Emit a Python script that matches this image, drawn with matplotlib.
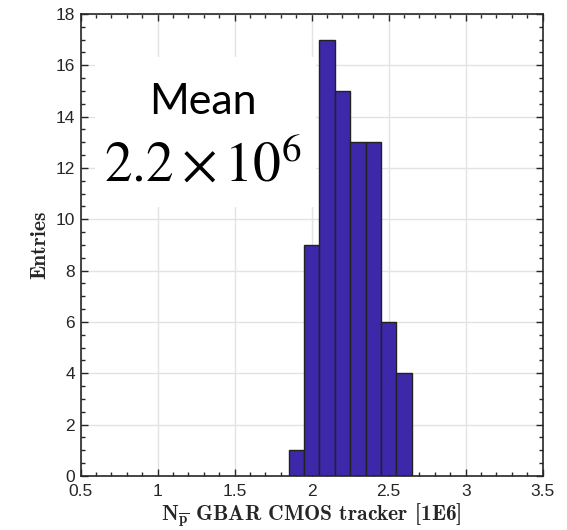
import numpy as np
import matplotlib
matplotlib.use('Agg')
import matplotlib.pyplot as plt
from matplotlib.patches import Rectangle
from matplotlib.ticker import MultipleLocator

# histogram of N_pbar per shot (units of 1E6)
bin_edges = [1.85, 1.95, 2.05, 2.15, 2.25, 2.35, 2.45, 2.55, 2.65]
counts = [1, 9, 17, 15, 13, 13, 6, 4]
x_ticks = [0.5, 1, 1.5, 2, 2.5, 3, 3.5]
y_ticks = [0, 2, 4, 6, 8, 10, 12, 14, 16, 18]

plt.rcParams['mathtext.fontset'] = 'cm'
plt.rcParams['font.family'] = ['Liberation Sans', 'DejaVu Sans']

fig = plt.figure(figsize=(5.67, 5.30), dpi=100)
ax = fig.add_axes([0.1423, 0.1019, 0.8148, 0.8717])

lefts = np.array(bin_edges[:-1])
widths = np.diff(bin_edges)
ax.bar(lefts, counts, width=widths, align='edge', color='#3c28a8',
       edgecolor='#222222', linewidth=1.0, zorder=2)

ax.set_xlim(0.5, 3.5)
ax.set_ylim(0, 18)
ax.set_xticks(x_ticks)
ax.set_xticklabels(['0.5', '1', '1.5', '2', '2.5', '3', '3.5'])
ax.set_yticks(y_ticks)
ax.xaxis.set_minor_locator(MultipleLocator(0.1))
ax.yaxis.set_minor_locator(MultipleLocator(0.5))

dark = '#262626'
ax.tick_params(which='both', direction='in', top=True, right=True,
               color=dark, labelcolor=dark, labelsize=12.5, width=1.0)
ax.tick_params(which='major', length=5)
ax.tick_params(axis='x', which='major', pad=6)
ax.tick_params(axis='y', which='major', pad=4)
ax.tick_params(which='minor', length=3)
for sp in ax.spines.values():
    sp.set_color(dark)
    sp.set_linewidth(1.2)

ax.grid(True, which='major', color='#e3e3e3', linewidth=1.0)
ax.set_axisbelow(True)

# white background behind the annotation
ax.add_patch(Rectangle((0.031, 0.582), 0.478, 0.325, transform=ax.transAxes,
                       facecolor='white', edgecolor='none', zorder=1.5))

ax.text(0.265, 0.81, 'Mean', transform=ax.transAxes, ha='center',
        va='center', fontsize=31, family='Lato', color='black', zorder=3)
ax.text(0.265, 0.64, r'$2.2\times10^6$', transform=ax.transAxes,
        ha='center', va='baseline', fontsize=40, color='black', zorder=3,
        math_fontfamily='stix')

ax.set_ylabel('Entries', fontsize=15.5, family='cmb10', color=dark,
              labelpad=5)
ax.set_xlabel(r'$\mathbf{N}_{\overline{\mathbf{p}}}$ GBAR CMOS tracker [1E6]',
              fontsize=15.5, family='cmb10', math_fontfamily='cm',
              color=dark, labelpad=2)

fig.savefig('out.png', dpi=100, facecolor='white')
